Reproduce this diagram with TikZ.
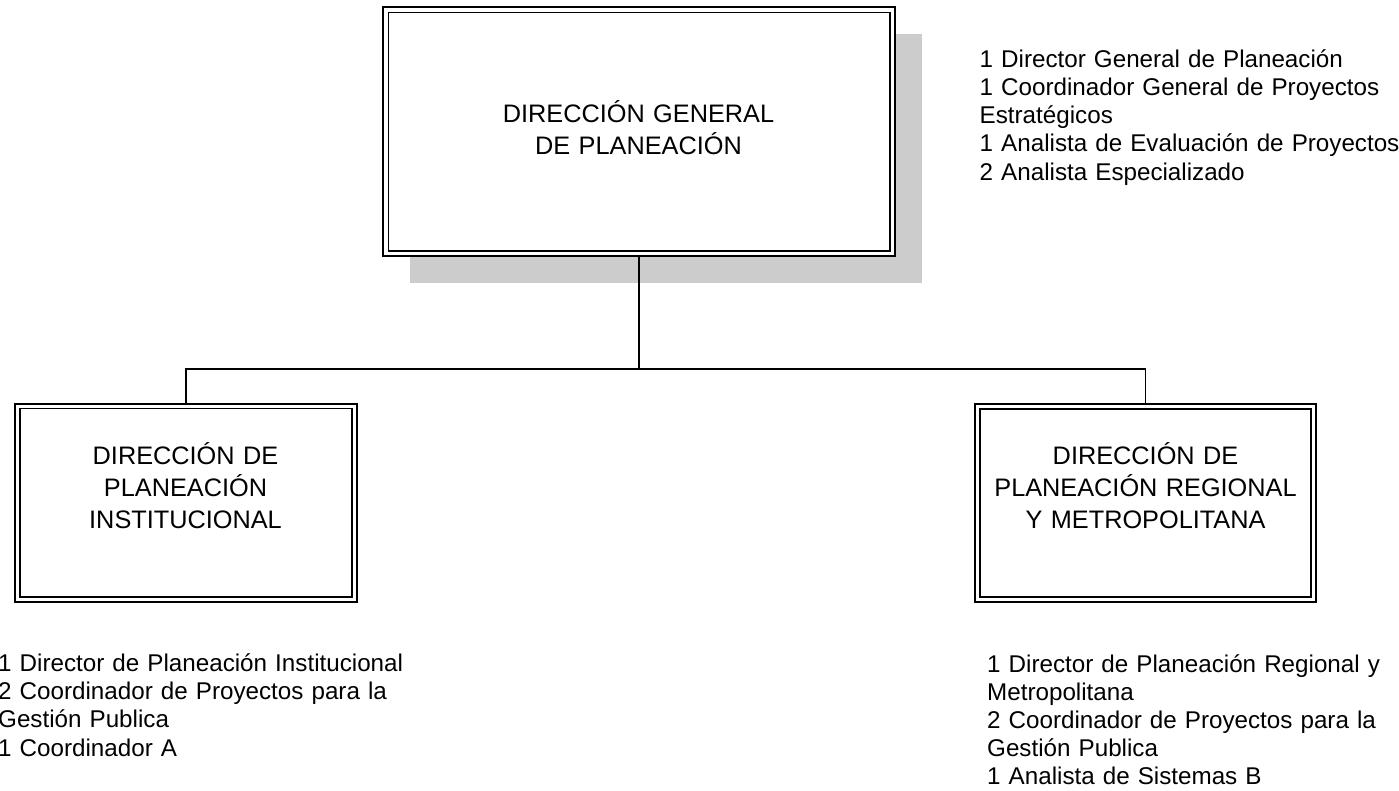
\documentclass[tikz,border=0pt]{standalone}
\usepackage{fontspec}
\setmainfont{Liberation Sans}
\begin{document}
\begin{tikzpicture}[x=1pt,y=-1pt,
  unitbox/.style={draw=black, line width=2pt, fill=white, rectangle, inner sep=0pt},
  innerframe/.style={draw=black, line width=1.5pt},
  shadowbox/.style={fill=black!20, draw=none},
  link/.style={draw=black, line width=1.6pt},
  boxtext/.style={inner sep=0pt, text width=330pt, align=center, anchor=base,
    font=\fontsize{25.3}{32}\selectfont},
  listtext/.style={inner sep=0pt, text width=430pt, align=left, anchor=base west,
    font=\fontsize{24.2}{28.2}\selectfont}]
\useasboundingbox (0,0) rectangle (1399,791);
\fill[white] (0,0) rectangle (1399,791);

% shadow of the top box
\fill[shadowbox] (410,34.5) rectangle (922,283);

% boxes
\node[unitbox, minimum width=511.5pt, minimum height=248.5pt] (dg) at (639,131.75) {};
\draw[innerframe] ([shift={(6,6)}]dg.north west) rectangle ([shift={(-6,-6)}]dg.south east);

\node[unitbox, minimum width=342pt, minimum height=198.5pt] (dpi) at (186,502.75) {};
\draw[innerframe] ([shift={(6,6)}]dpi.north west) rectangle ([shift={(-6,-6)}]dpi.south east);

\node[unitbox, minimum width=341pt, minimum height=198pt] (dpr) at (1145.5,502.75) {};
\draw[innerframe] ([shift={(6,6)}]dpr.north west) rectangle ([shift={(-6,-6)}]dpr.south east);

% box labels
\node[boxtext] (dgt) at (638.5,123) {DIRECCIÓN GENERAL\\DE PLANEACIÓN};
\node[boxtext] (dpit) at (185.5,464) {DIRECCIÓN DE\\PLANEACIÓN\\INSTITUCIONAL};
\node[boxtext] (dprt) at (1145.5,464) {DIRECCIÓN DE\\PLANEACIÓN REGIONAL\\Y METROPOLITANA};

% connectors
\coordinate (bus) at (0,369);
\draw[link] (dg.south) -- (dg.south |- bus);
\draw[link] (dpi.north) -- (dpi.north |- bus) -- (dpr.north |- bus) -- (dpr.north);

% staff lists
\node[listtext] (lg) at (979.5,67.3) {1 Director General de Planeación\\1 Coordinador General de Proyectos\\Estratégicos\\1 Analista de Evaluación de Proyectos\\2 Analista Especializado};
\node[listtext] (li) at (-2,671.5) {1 Director de Planeación Institucional\\2 Coordinador de Proyectos para la\\Gestión Publica\\1 Coordinador A};
\node[listtext] (lr) at (987,672) {1 Director de Planeación Regional y\\Metropolitana\\2 Coordinador de Proyectos para la\\Gestión Publica\\1 Analista de Sistemas B};
\end{tikzpicture}
\end{document}
